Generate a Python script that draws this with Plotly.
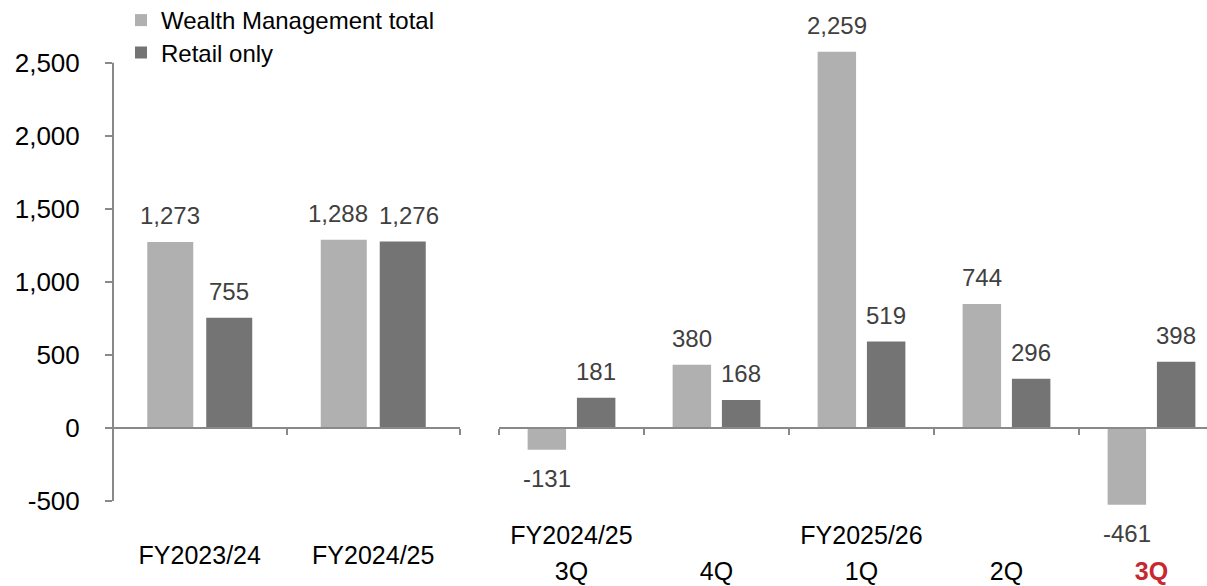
import plotly.graph_objects as go

# ---------------- data ----------------
annual_categories = ["FY2023/24", "FY2024/25"]
annual_wealth_total = [1273, 1288]
annual_retail_only = [755, 1276]

quarter_fy_labels = ["FY2024/25", "", "FY2025/26", "", ""]
quarter_labels = ["3Q", "4Q", "1Q", "2Q", "3Q"]
quarter_wealth_total = [-131, 380, 2259, 744, -461]
quarter_retail_only = [181, 168, 519, 296, 398]

y_tick_values = [-500, 0, 500, 1000, 1500, 2000, 2500]

series_names = ["Wealth Management total", "Retail only"]

# ---------------- style ----------------
LIGHT = "#B0B0B0"
DARK = "#747474"
AXIS = "#898989"
LABEL = "#404040"
RED = "#C8282E"
FONT = "Liberation Sans, Arial, sans-serif"
FS = 24

W, H = 1207, 586
M_T, M_B = 0, 60
PLOT_H = H - M_T - M_B
PX_PER_UNIT = 0.14607
ZERO_PX = 428
Y_MIN = -(H - M_B - ZERO_PX) / PX_PER_UNIT
Y_MAX = (ZERO_PX - M_T) / PX_PER_UNIT
Q_SCALE = 1.14  # quarterly panel uses its own (hidden) scale
Y2_MIN, Y2_MAX = Y_MIN / Q_SCALE, Y_MAX / Q_SCALE
ZERO_POS = (0 - Y_MIN) / (Y_MAX - Y_MIN)

LEFT_DOM = [113 / W, 460 / W]
RIGHT_DOM = [499 / W, 1.0]
right_range = [-0.5, -0.5 + (W - 499) / 145.0]

BARGAP, BARGROUPGAP = 0.32, 0.22
OFF = (1 - BARGAP) / 4

xa = list(range(len(annual_categories)))
xq = list(range(len(quarter_labels)))

fig = go.Figure()
fig.add_bar(x=xa, y=annual_wealth_total, name=series_names[0], marker_color=LIGHT,
            legend="legend", xaxis="x", yaxis="y")
fig.add_bar(x=xa, y=annual_retail_only, name=series_names[1], marker_color=DARK,
            legend="legend2", xaxis="x", yaxis="y")
fig.add_bar(x=xq, y=quarter_wealth_total, name=series_names[0], marker_color=LIGHT,
            showlegend=False, xaxis="x2", yaxis="y2")
fig.add_bar(x=xq, y=quarter_retail_only, name=series_names[1], marker_color=DARK,
            showlegend=False, xaxis="x2", yaxis="y2")
fig.add_scatter(x=[], y=[], xaxis="x3", yaxis="y2", showlegend=False, hoverinfo="skip")

fig.update_traces(selector=dict(type="bar"), marker_line_width=0)

# data labels
annotations = []
def add_labels(xs, light_vals, dark_vals, xref, yref, scale):
    for x, a, b in zip(xs, light_vals, dark_vals):
        # nudge apart when the two labels of a group sit at nearly the same height
        close = (a >= 0) == (b >= 0) and abs(a - b) * PX_PER_UNIT * scale < 20
        for v, sign in ((a, -1), (b, +1)):
            annotations.append(dict(
                x=x + sign * OFF, y=v, xref=xref, yref=yref, text=f"{v:,}",
                showarrow=False, font=dict(family=FONT, size=FS, color=LABEL),
                xshift=sign * 6 if close else 0,
                yanchor="bottom" if v >= 0 else "top",
                yshift=11 if v >= 0 else -13))
add_labels(xa, annual_wealth_total, annual_retail_only, "x", "y", 1.0)
add_labels(xq, quarter_wealth_total, quarter_retail_only, "x2", "y2", Q_SCALE)

quarter_text = [
    (f"<b><span style='color:{RED}'>{q}</span></b>" if i == len(quarter_labels) - 1 else q)
    for i, q in enumerate(quarter_labels)
]

xtickfont = dict(family=FONT, size=25, color="black")
ytickfont = dict(family=FONT, size=26, color="black")
legend_common = dict(orientation="v", x=121 / W, xanchor="left", yanchor="top",
                     font=dict(family=FONT, size=FS, color="black"),
                     bgcolor="rgba(0,0,0,0)")

fig.update_layout(
    width=W, height=H,
    margin=dict(l=0, r=0, t=M_T, b=M_B, autoexpand=False),
    paper_bgcolor="white", plot_bgcolor="white",
    barmode="group", bargap=BARGAP, bargroupgap=BARGROUPGAP,
    font=dict(family=FONT, size=FS, color="black"),
    showlegend=True,
    legend=dict(y=1 + 2 / PLOT_H, **legend_common),
    legend2=dict(y=(PLOT_H - 30.5) / PLOT_H, **legend_common),
    annotations=annotations,
    xaxis=dict(domain=LEFT_DOM, range=[-0.5, 1.5], anchor="free", position=ZERO_POS,
               showline=True, linecolor=AXIS, linewidth=2, showgrid=False, zeroline=False,
               tickmode="array", tickvals=xa, ticktext=annual_categories, ticks="",
               ticklabelstandoff=105, tickfont=xtickfont, automargin=False,
               minor=dict(tickmode="array", tickvals=[0.5, 1.5], ticks="outside",
                          ticklen=6, tickwidth=1.5, tickcolor=AXIS, showgrid=False)),
    xaxis2=dict(domain=RIGHT_DOM, range=right_range, anchor="free", position=ZERO_POS,
                showline=True, linecolor=AXIS, linewidth=2, showgrid=False, zeroline=False,
                tickmode="array", tickvals=xq, ticktext=quarter_fy_labels, ticks="",
                ticklabelstandoff=85, tickfont=xtickfont, automargin=False,
                minor=dict(tickmode="array", tickvals=[-0.5, 0.5, 1.5, 2.5, 3.5],
                           ticks="outside", ticklen=6, tickwidth=1.5, tickcolor=AXIS,
                           showgrid=False)),
    xaxis3=dict(domain=RIGHT_DOM, range=right_range, overlaying="x2", anchor="free",
                position=ZERO_POS, showline=False, showgrid=False, zeroline=False,
                tickmode="array", tickvals=xq, ticktext=quarter_text, ticks="",
                ticklabelstandoff=126, tickfont=xtickfont, automargin=False),
    yaxis=dict(domain=[0, 1], range=[Y_MIN, Y_MAX], anchor="x", showline=False,
               showgrid=False, zeroline=False, tickmode="array", tickvals=y_tick_values,
               ticktext=[f"{v:,}" for v in y_tick_values], ticks="outside", ticklen=7,
               tickwidth=1.5, tickcolor=AXIS, ticklabelstandoff=20, tickfont=ytickfont,
               automargin=False),
    yaxis2=dict(domain=[0, 1], range=[Y2_MIN, Y2_MAX], anchor="x2", visible=False,
                showgrid=False, zeroline=False, automargin=False),
    shapes=[dict(type="line", xref="paper", yref="y", x0=LEFT_DOM[0], x1=LEFT_DOM[0],
                 y0=y_tick_values[0], y1=y_tick_values[-1],
                 line=dict(color=AXIS, width=2), layer="above")],
)

fig.write_html("out.html", config={"displayModeBar": False},
               post_script="document.body.style.margin='0px';document.body.style.overflow='hidden';")
